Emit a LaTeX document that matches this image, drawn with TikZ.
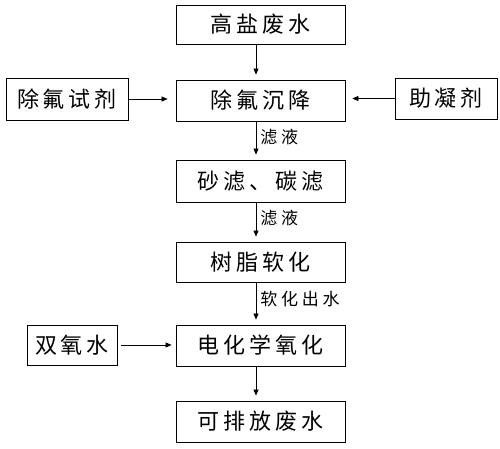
\documentclass[tikz,border=0pt]{standalone}
\usepackage{fontspec}
\newfontfamily\cjkbox[LetterSpace=18]{Noto Sans CJK SC}
\newfontfamily\cjknote[LetterSpace=22]{Noto Sans CJK SC}
\usetikzlibrary{arrows.meta}

\begin{document}
\begin{tikzpicture}[x=1pt,y=-1pt,box/.style={draw=black,line width=0.8pt,minimum width=169pt,minimum height=40pt,inner sep=0pt,font=\cjkbox\fontsize{22}{22}\selectfont},arrow/.style={-{Triangle[length=6pt,width=5pt]},line width=0.7pt,shorten >=5pt},note/.style={font=\cjknote\fontsize{17}{17}\selectfont,anchor=west,inner sep=4pt}]
\useasboundingbox (0,0) rectangle (500,448);
\node[box,minimum height=39pt] (n0) at (260.5,24.5) {高盐废水};
\node[box,minimum height=41pt] (n1) at (260.5,100.5) {除氟沉降};
\node[box,minimum height=42pt] (n2) at (260.5,181) {砂滤、碳滤};
\node[box] (n3) at (260.5,262) {树脂软化};
\node[box,minimum height=41pt] (n4) at (260.5,345.5) {电化学氧化};
\node[box,minimum height=41pt] (n5) at (260.5,421.5) {可排放废水};
\node[box,minimum width=122pt,minimum height=42pt] (s0) at (67,99) {除氟试剂};
\node[box,minimum width=102pt,minimum height=41pt] (s1) at (446,98.5) {助凝剂};
\node[box,minimum width=90pt] (s2) at (72,345) {双氧水};
\draw[arrow] ([xshift=-4.5pt]n0.south) -- ([xshift=-4.5pt]n1.north);
\draw[arrow] ([xshift=-4.5pt]n1.south) -- node[note,pos=0.4] {滤液} ([xshift=-4.5pt]n2.north);
\draw[arrow] ([xshift=-4.5pt]n2.south) -- node[note,pos=0.4] {滤液} ([xshift=-4.5pt]n3.north);
\draw[arrow] ([xshift=-4.5pt]n3.south) -- node[note,pos=0.4] {软化出水} ([xshift=-4.5pt]n4.north);
\draw[arrow] ([xshift=-4.5pt]n4.south) -- ([xshift=-4.5pt]n5.north);
\draw[arrow,shorten >=8pt] (s0.east) -- (s0.east -| n1.west);
\draw[arrow,shorten >=7pt] (s1.west) -- (s1.west -| n1.east);
\draw[arrow,shorten <=4pt,shorten >=4pt] (s2.east) -- (s2.east -| n4.west);
\end{tikzpicture}
\end{document}
